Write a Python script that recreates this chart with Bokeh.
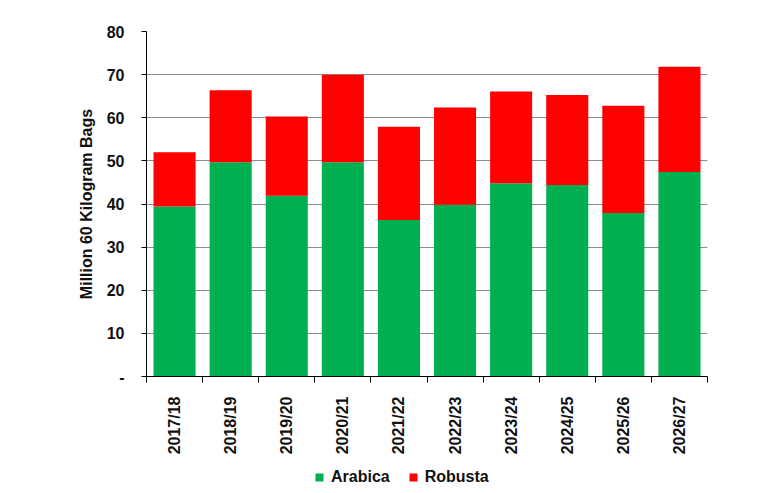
import math

from bokeh.plotting import figure
from bokeh.layouts import column
from bokeh.models import FixedTicker, Legend, LegendItem, Range1d
from bokeh.embed import file_html
from bokeh.resources import INLINE

# ---- data (million 60 kg bags)
seasons = ["2017/18", "2018/19", "2019/20", "2020/21", "2021/22",
           "2022/23", "2023/24", "2024/25", "2025/26", "2026/27"]
arabica = [39.4, 49.7, 41.9, 49.7, 36.3, 39.8, 44.8, 44.4, 37.9, 47.4]
robusta = [12.6, 16.7, 18.4, 20.3, 21.6, 22.6, 21.3, 20.9, 24.9, 24.4]
y_ticks = [0, 10, 20, 30, 40, 50, 60, 70, 80]
names = ["Arabica", "Robusta"]

FONT = "Liberation Sans"
TXT = "#111111"
GREEN = "#00b050"
RED = "#ff0000"

idx = list(range(len(seasons)))
data = {"x": idx, "Arabica": arabica, "Robusta": robusta}

p = figure(width=760, height=463, output_backend="svg", toolbar_location=None,
           x_range=Range1d(-0.5, len(seasons) - 0.5), y_range=Range1d(0, 80),
           min_border_left=146, min_border_right=53, min_border_top=31,
           min_border_bottom=87)
p.outline_line_color = None

# stacked bars
p.vbar_stack(names, x="x", width=0.75, color=[GREEN, RED], line_color=None,
             source=data)

# x axis: season labels at bar centres, small ticks between bars
xa = p.xaxis[0]
xa.ticker = FixedTicker(ticks=idx, minor_ticks=[i - 0.5 for i in range(len(seasons) + 1)])
xa.major_label_overrides = {i: s for i, s in zip(idx, seasons)}
xa.major_label_orientation = math.pi / 2
xa.major_tick_line_color = None
xa.minor_tick_in = 0
xa.minor_tick_out = 6
xa.minor_tick_line_color = "black"
xa.axis_line_color = "black"
xa.major_label_standoff = 14
xa.major_label_text_font = FONT
xa.major_label_text_font_style = "bold"
xa.major_label_text_font_size = "16px"
xa.major_label_text_color = TXT

# y axis
ya = p.yaxis[0]
ya.ticker = FixedTicker(ticks=y_ticks)
ya.major_label_overrides = {0: "-"}
ya.major_tick_in = 0
ya.major_tick_out = 5
ya.major_tick_line_color = "black"
ya.minor_tick_line_color = None
ya.axis_line_color = "black"
ya.major_label_standoff = 17
ya.major_label_text_font = FONT
ya.major_label_text_font_style = "bold"
ya.major_label_text_font_size = "16px"
ya.major_label_text_color = TXT
ya.axis_label = "Million 60 Kilogram Bags"
ya.axis_label_text_font = FONT
ya.axis_label_text_font_style = "bold"
ya.axis_label_text_font_size = "16px"
ya.axis_label_text_color = TXT
ya.axis_label_standoff = 9

p.xgrid.grid_line_color = None
p.ygrid.ticker = FixedTicker(ticks=y_ticks)
p.ygrid.grid_line_color = "#8c8c8c"
p.ygrid.grid_line_width = 1

# legend strip under the chart (its frame lines up with the chart's frame)
lf = figure(width=760, height=27, output_backend="svg", toolbar_location=None,
            x_axis_type=None, y_axis_type=None, min_border=0)
lf.outline_line_color = None
lf.xgrid.grid_line_color = None
lf.ygrid.grid_line_color = None
keys = lf.vbar_stack(names, x="x", width=0.75, color=[GREEN, RED],
                     line_color=None, source=data)
for r in keys:
    r.visible = False

legend = Legend(items=[LegendItem(label=n, renderers=[r]) for n, r in zip(names, keys)],
                orientation="horizontal", location=(168, 3), click_policy="none",
                border_line_color=None, background_fill_alpha=0,
                glyph_width=10, glyph_height=10, label_standoff=7, spacing=18,
                label_height=20, label_text_font=FONT, label_text_font_style="bold",
                label_text_font_size="16px", label_text_color=TXT,
                padding=0, margin=0)
lf.add_layout(legend, "center")

open("out.html", "w").write(file_html(column(p, lf), INLINE))
